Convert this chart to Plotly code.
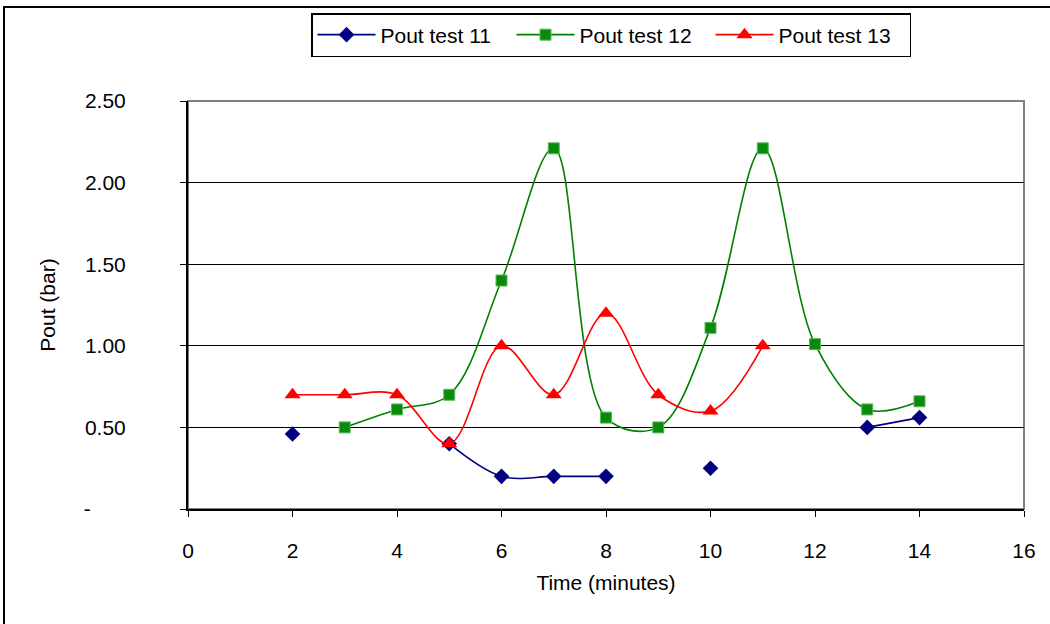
import plotly.graph_objects as go

# Sampling times (minutes) and outlet pressure readings (bar); None = no reading
time_min = [2, 3, 4, 5, 6, 7, 8, 9, 10, 11, 12, 13, 14]
pout_11 = [0.46, None, None, 0.40, 0.20, 0.20, 0.20, None, 0.25, None, None, 0.50, 0.56]
pout_12 = [None, 0.50, 0.61, 0.70, 1.40, 2.21, 0.56, 0.50, 1.11, 2.21, 1.01, 0.61, 0.66]
pout_13 = [0.70, 0.70, 0.70, 0.40, 1.00, 0.70, 1.20, 0.70, 0.60, 1.00, None, None, None]

y_ticks = [0, 0.5, 1.0, 1.5, 2.0, 2.5]
y_tick_text = ["-\u00a0\u00a0\u00a0\u00a0\u00a0\u00a0", "0.50", "1.00", "1.50", "2.00", "2.50"]
x_ticks = [0, 2, 4, 6, 8, 10, 12, 14, 16]

series = [
    ("Pout test 11", pout_11, "#000080", dict(symbol="diamond", size=12, color="#000080",
                                              line=dict(width=0))),
    ("Pout test 12", pout_12, "#008000", dict(symbol="square", size=11, color="#0a8a0a",
                                              line=dict(width=1, color="#5cb85c"))),
    ("Pout test 13", pout_13, "#FF0000", dict(symbol="triangle-up", size=14, color="#FF0000",
                                              line=dict(width=0))),
]

fig = go.Figure()
for name, vals, color, marker in series:
    fig.add_trace(go.Scatter(
        x=time_min, y=vals, name=name, mode="lines+markers",
        line=dict(color=color, width=1.6, shape="spline", smoothing=1.0),
        marker=marker, connectgaps=False,
    ))

L, R, T, B = 188, 26, 101, 115
W, H = 1050, 624
pw, ph = W - L - R, H - T - B

def px_x(p):
    return (p - L) / pw

def px_y(p):
    return 1 - (p - T) / ph

font = "Liberation Sans, Arial, sans-serif"
fs = 21

fig.update_layout(
    width=W, height=H,
    margin=dict(l=L, r=R, t=T, b=B),
    paper_bgcolor="white", plot_bgcolor="white",
    font=dict(family=font, size=fs, color="black"),
    showlegend=True,
    legend=dict(
        orientation="h", x=px_x(611), y=px_y(13), xanchor="center", yanchor="top",
        bordercolor="black", borderwidth=1.5, bgcolor="white",
        font=dict(size=fs), tracegroupgap=0,
        entrywidth=126, entrywidthmode="pixels", itemwidth=58,
    ),
    xaxis=dict(
        range=[0, 16], tickvals=x_ticks, ticks="outside", ticklen=6, tickwidth=1,
        tickcolor="black", showline=True, linecolor="black", linewidth=2,
        showgrid=False, zeroline=False, ticklabelstandoff=16,
        title=dict(text="Time (minutes)", standoff=14, font=dict(size=fs)),
        tickfont=dict(size=fs),
    ),
    yaxis=dict(
        range=[0, 2.5], tickvals=y_ticks, ticktext=y_tick_text, ticks="outside",
        ticklen=6, tickwidth=1, tickcolor="black", showline=True, linecolor="black",
        linewidth=2, showgrid=True, gridcolor="black", gridwidth=1, zeroline=False,
        ticklabelstandoff=50,
        title=dict(text="Pout (bar)", standoff=22, font=dict(size=fs)),
        tickfont=dict(size=fs),
    ),
    shapes=[
        # plot-area frame (top and right edges in grey)
        dict(type="rect", xref="paper", yref="paper", x0=0, x1=1, y0=0, y1=1,
             line=dict(color="#808080", width=2), layer="below"),
        # outer chart frame
        dict(type="rect", xref="paper", yref="paper",
             x0=px_x(4), x1=px_x(1060), y0=px_y(640), y1=px_y(7),
             line=dict(color="black", width=2), layer="below"),
    ],
)

fig.write_html("out.html")
